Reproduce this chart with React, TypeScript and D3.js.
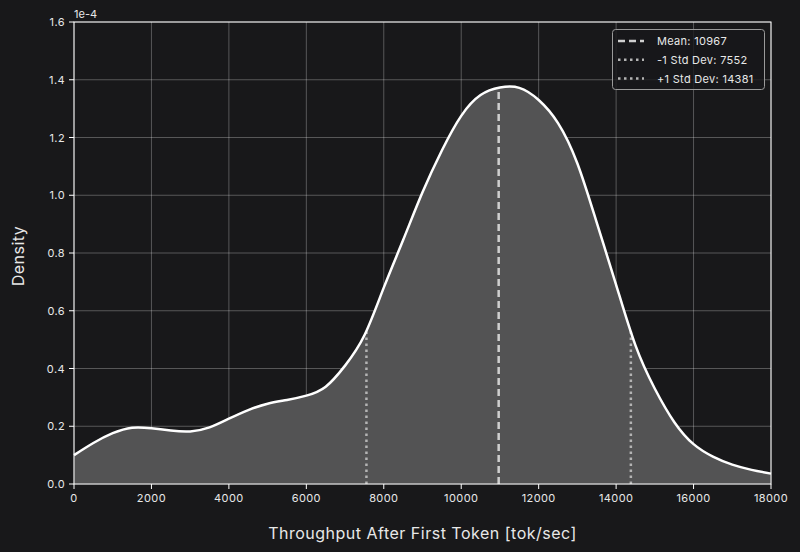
import * as d3 from "d3";

// KDE samples (density in units of 1e-4)
const throughput = [
  0, 500, 1000, 1500, 2000, 2500, 3000, 3500, 4000, 4500, 5000, 5500, 6000,
  6500, 7000, 7500, 8000, 8500, 9000, 9500, 10000, 10500, 11000, 11500, 12000,
  12500, 13000, 13500, 14000, 14500, 15000, 15500, 16000, 16500, 17000, 17500,
  18000,
];
const density = [
  0.1, 0.142, 0.176, 0.195, 0.193, 0.185, 0.182, 0.196, 0.226, 0.256, 0.278,
  0.291, 0.306, 0.337, 0.41, 0.515, 0.68, 0.845, 1.01, 1.155, 1.275, 1.347,
  1.373, 1.372, 1.33, 1.25, 1.11, 0.905, 0.69, 0.48, 0.33, 0.215, 0.138,
  0.095, 0.067, 0.049, 0.036,
];
const xTicks = [0, 2000, 4000, 6000, 8000, 10000, 12000, 14000, 16000, 18000];
const yTicks = [0, 0.2, 0.4, 0.6, 0.8, 1.0, 1.2, 1.4, 1.6];
const mean = 10967;
const stdLow = 7552;
const stdHigh = 14381;
const legendLabels = ["Mean: 10967", "-1 Std Dev: 7552", "+1 Std Dev: 14381"];

const W = 800;
const H = 552;
const margin = { top: 22, right: 29, bottom: 68, left: 74 };
const font = "Inter, 'DejaVu Sans', sans-serif";

export default function App() {
  const x = d3
    .scaleLinear()
    .domain([0, 18000])
    .range([margin.left, W - margin.right]);
  const y = d3
    .scaleLinear()
    .domain([0, 1.6])
    .range([H - margin.bottom, margin.top]);

  const pts = throughput.map((t, i) => [t, density[i]] as [number, number]);
  const area = d3
    .area<[number, number]>()
    .x((d) => x(d[0]))
    .y0(y(0))
    .y1((d) => y(d[1]))
    .curve(d3.curveNatural);
  const line = d3
    .line<[number, number]>()
    .x((d) => x(d[0]))
    .y((d) => y(d[1]))
    .curve(d3.curveNatural);

  const interp = (v: number) => {
    const i = d3.bisectLeft(throughput, v);
    const t0 = throughput[i - 1], t1 = throughput[i];
    const k = (v - t0) / (t1 - t0);
    return density[i - 1] + k * (density[i] - density[i - 1]);
  };

  const vlines = [
    { v: mean, dash: "7,4", color: "#cfcfcf" },
    { v: stdLow, dash: "2.5,3.5", color: "#b4b4b4" },
    { v: stdHigh, dash: "2.5,3.5", color: "#b4b4b4" },
  ];

  const [x0, x1] = x.range();
  const [yb, yt] = y.range();

  return (
    <svg
      width={W}
      height={H}
      style={{ position: "absolute", left: 0, top: 0, background: "#18181a" }}
    >
      <rect width={W} height={H} fill="#18181a" />
      {/* grid */}
      {xTicks.map((t) => (
        <line key={"gx" + t} x1={x(t)} x2={x(t)} y1={yt} y2={yb} stroke="#ffffff" strokeOpacity={0.35} strokeWidth={0.8} />
      ))}
      {yTicks.map((t) => (
        <line key={"gy" + t} x1={x0} x2={x1} y1={y(t)} y2={y(t)} stroke="#ffffff" strokeOpacity={0.35} strokeWidth={0.8} />
      ))}
      <path d={area(pts) || ""} fill="#535354" />
      {vlines.map((l, i) => (
        <line
          key={"v" + i}
          x1={x(l.v)}
          x2={x(l.v)}
          y1={y(0)}
          y2={y(interp(l.v))}
          stroke={l.color}
          strokeWidth={2.5}
          strokeDasharray={l.dash}
        />
      ))}
      <path d={line(pts) || ""} fill="none" stroke="#ffffff" strokeWidth={2.5} />
      {/* frame */}
      <rect x={x0} y={yt} width={x1 - x0} height={yb - yt} fill="none" stroke="#ffffff" strokeWidth={1} />
      {/* x ticks */}
      {xTicks.map((t) => (
        <g key={"tx" + t}>
          <line x1={x(t)} x2={x(t)} y1={yb} y2={yb + 5} stroke="#ffffff" />
          <text x={x(t)} y={yb + 18} textAnchor="middle" fill="#e8e8e8" fontSize={11} letterSpacing={0.4} fontFamily={font}>
            {t}
          </text>
        </g>
      ))}
      {yTicks.map((t) => (
        <g key={"ty" + t}>
          <line x1={x0 - 5} x2={x0} y1={y(t)} y2={y(t)} stroke="#ffffff" />
          <text x={x0 - 9} y={y(t) + 4} textAnchor="end" fill="#e8e8e8" fontSize={11} letterSpacing={0.4} fontFamily={font}>
            {t.toFixed(1)}
          </text>
        </g>
      ))}
      <text x={x0} y={yt - 4} fill="#e8e8e8" fontSize={11} fontFamily={font}>
        1e-4
      </text>
      <text
        x={(x0 + x1) / 2}
        y={539}
        textAnchor="middle"
        fill="#e8e8e8"
        fontSize={16}
        letterSpacing={0.5}
        fontFamily={font}
      >
        Throughput After First Token [tok/sec]
      </text>
      <text
        transform={`translate(24,256) rotate(-90)`}
        textAnchor="middle"
        fill="#e8e8e8"
        fontSize={16}
        letterSpacing={0.5}
        fontFamily={font}
      >
        Density
      </text>
      {/* legend */}
      <g>
        <rect x={612.5} y={29.5} width={152} height={60} rx={3} fill="#18181a" fillOpacity={0.8} stroke="#9a9a9a" strokeWidth={1} />
        {legendLabels.map((lab, i) => (
          <g key={lab} transform={`translate(0,${41 + i * 18.8})`}>
            <line x1={618} x2={644} y1={0} y2={0} stroke={vlines[i].color} strokeWidth={2.5} strokeDasharray={vlines[i].dash} />
            <text x={657} y={4} fill="#e8e8e8" fontSize={11} letterSpacing={0.3} fontFamily={font}>
              {lab}
            </text>
          </g>
        ))}
      </g>
    </svg>
  );
}
